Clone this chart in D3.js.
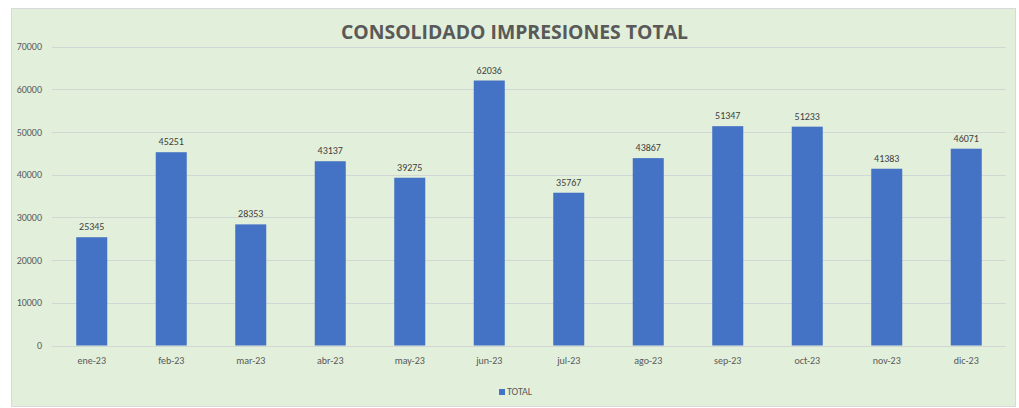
<!DOCTYPE html>
<html>
<head>
<meta charset="utf-8">
<script src="https://cdn.jsdelivr.net/npm/d3@7"></script>
<style>
  body { margin: 0; background: #fff; }
  svg { display: block; font-family: Calibri, Carlito, "Liberation Sans", "Open Sans", sans-serif; }
</style>
</head>
<body>
<svg id="chart" width="1019" height="408"></svg>
<script>
const months = ["ene-23", "feb-23", "mar-23", "abr-23", "may-23", "jun-23",
                "jul-23", "ago-23", "sep-23", "oct-23", "nov-23", "dic-23"];
const totals = [25345, 45251, 28353, 43137, 39275, 62036,
                35767, 43867, 51347, 51233, 41383, 46071];
const yTicks = [0, 10000, 20000, 30000, 40000, 50000, 60000, 70000];
const seriesName = "TOTAL";
const title = "CONSOLIDADO IMPRESIONES TOTAL";

const svg = d3.select("#chart");
const width = 1019;
const height = 408;

const marginLeft = 52;
const marginRight = 13;
const plotTop = 46.5;
const plotBottom = 345.5;

// chart background
svg.append("rect")
    .attr("x", 11.5).attr("y", 8.5)
    .attr("width", 1004).attr("height", 398)
    .attr("fill", "#e2efda")
    .attr("stroke", "#d9d9d9");

const x = d3.scaleBand()
    .domain(months)
    .range([marginLeft, width - marginRight])
    .paddingInner(0.61)
    .paddingOuter(0.305);

const y = d3.scaleLinear()
    .domain([0, 70000])
    .range([plotBottom, plotTop]);

// gridlines
svg.append("g")
    .selectAll("line")
    .data(yTicks)
    .join("line")
    .attr("x1", marginLeft)
    .attr("x2", width - marginRight)
    .attr("y1", d => Math.round(y(d)) + 0.5)
    .attr("y2", d => Math.round(y(d)) + 0.5)
    .attr("stroke", "#d0d7d4")
    .attr("stroke-width", 1);

// vertical axis labels
svg.append("g")
    .attr("transform", `translate(${marginLeft - 10},0)`)
    .call(d3.axisLeft(y).tickValues(yTicks).tickSize(0).tickFormat(d3.format("d")))
    .call(g => g.select(".domain").remove())
    .call(g => g.selectAll("text")
        .attr("x", 0)
        .attr("fill", "#595959")
        .style("font-size", "10px")
        .style("font-family", "Calibri, Carlito, 'Liberation Sans', sans-serif"));

// bars
svg.append("g")
    .attr("fill", "#4472c4")
    .selectAll("rect")
    .data(totals)
    .join("rect")
    .attr("x", (d, i) => x(months[i]))
    .attr("y", d => y(d))
    .attr("width", x.bandwidth())
    .attr("height", d => y(0) - y(d));

// data labels
svg.append("g")
    .selectAll("text")
    .data(totals)
    .join("text")
    .attr("x", (d, i) => x(months[i]) + x.bandwidth() / 2)
    .attr("y", d => y(d) - 7)
    .attr("text-anchor", "middle")
    .attr("fill", "#404040")
    .style("font-size", "10px")
    .text(d => d);

// horizontal axis labels
svg.append("g")
    .attr("transform", `translate(0,${plotBottom + 8})`)
    .call(d3.axisBottom(x).tickSize(0))
    .call(g => g.select(".domain").remove())
    .call(g => g.selectAll("text")
        .attr("fill", "#595959")
        .style("font-size", "10px")
        .style("font-family", "Calibri, Carlito, 'Liberation Sans', sans-serif"));

// title
svg.append("text")
    .attr("x", 514.5)
    .attr("y", 38.5)
    .attr("text-anchor", "middle")
    .attr("fill", "#595959")
    .style("font-family", "'Open Sans', sans-serif")
    .style("font-size", "19.5px")
    .style("font-weight", "bold")
    .attr("textLength", 347)
    .attr("lengthAdjust", "spacingAndGlyphs")
    .text(title);

// legend
const legend = svg.append("g").attr("transform", "translate(499,393)");
legend.append("rect")
    .attr("x", 0).attr("y", -4)
    .attr("width", 6).attr("height", 6)
    .attr("fill", "#4472c4");
legend.append("text")
    .attr("x", 8).attr("y", 0)
    .attr("dominant-baseline", "middle")
    .attr("fill", "#595959")
    .style("font-size", "10px")
    .text(seriesName);
</script>
</body>
</html>
